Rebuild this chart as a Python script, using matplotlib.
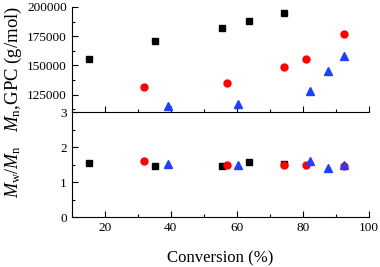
import matplotlib
matplotlib.use("Agg")
import matplotlib.pyplot as plt
from matplotlib.ticker import MultipleLocator

plt.rcParams['font.family'] = ['Liberation Serif', 'DejaVu Serif']
plt.rcParams['mathtext.fontset'] = 'custom'
plt.rcParams['mathtext.rm'] = 'Liberation Serif'
plt.rcParams['mathtext.it'] = 'Liberation Serif:italic'

# conversion (%) for each series
conv_sq = [15.2, 35.1, 55.5, 63.8, 74.3]
conv_ci = [31.8, 57.0, 74.4, 80.8, 92.5]
conv_tr = [39.0, 60.2, 82.1, 87.5, 92.4]

# Mn by GPC (g/mol)
mn_sq = [155400, 171000, 182000, 188000, 194800]
mn_ci = [131700, 135000, 148300, 155700, 176900]
mn_tr = [115000, 117000, 128300, 145400, 158000]

# dispersity Mw/Mn
pdi_sq = [1.54, 1.47, 1.46, 1.57, 1.52]
pdi_ci = [1.59, 1.48, 1.49, 1.48, 1.47]
pdi_tr = [1.52, 1.50, 1.60, 1.41, 1.48]

fig = plt.figure(figsize=(3.8, 2.67), dpi=100)
ax1 = fig.add_axes([0.189, 0.580, 0.782, 0.394])
ax2 = fig.add_axes([0.189, 0.187, 0.782, 0.393])

ms = 4.5
for ax, ysq, yci, ytr in [(ax1, mn_sq, mn_ci, mn_tr), (ax2, pdi_sq, pdi_ci, pdi_tr)]:
    ax.plot(conv_sq, ysq, 's', color='black', ms=ms, ls='none', clip_on=False)
    ax.plot(conv_ci, yci, 'o', color='red', ms=ms + 0.5, ls='none', clip_on=False)
    ax.plot(conv_tr, ytr, '^', color='#1f3fff', ms=ms + 0.8, ls='none', clip_on=False)
    ax.set_xlim(10, 100)
    ax.spines['top'].set_visible(False)
    ax.spines['right'].set_visible(False)
    ax.xaxis.set_major_locator(MultipleLocator(20))
    ax.xaxis.set_minor_locator(MultipleLocator(10))
    ax.tick_params(which='both', direction='in', labelsize=9.5, width=0.8)
    ax.tick_params(which='major', length=4)
    ax.tick_params(which='minor', length=2)
    ax.patch.set_alpha(0)

ax1.set_ylim(110000, 200000)
ax1.set_yticks([125000, 150000, 175000, 200000])
ax1.yaxis.set_minor_locator(MultipleLocator(12500))
ax1.tick_params(axis='x', labelbottom=False)

ax2.set_ylim(0, 3)
ax2.set_yticks([0, 1, 2, 3])
ax2.yaxis.set_minor_locator(MultipleLocator(0.5))
ax2.set_xlabel('Conversion (%)', fontsize=12.1, labelpad=11.5)

fig.text(13 / 380, 1 - 68.5 / 267, r'$M_{\mathrm{n}}$,GPC (g/mol)', rotation=90,
         ha='center', va='center', fontsize=13.5)
fig.text(13 / 380, 1 - 172 / 267, r'$M_{\mathrm{w}}/M_{\mathrm{n}}$', rotation=90,
         ha='center', va='center', fontsize=13)

fig.savefig('out.png', dpi=100)
